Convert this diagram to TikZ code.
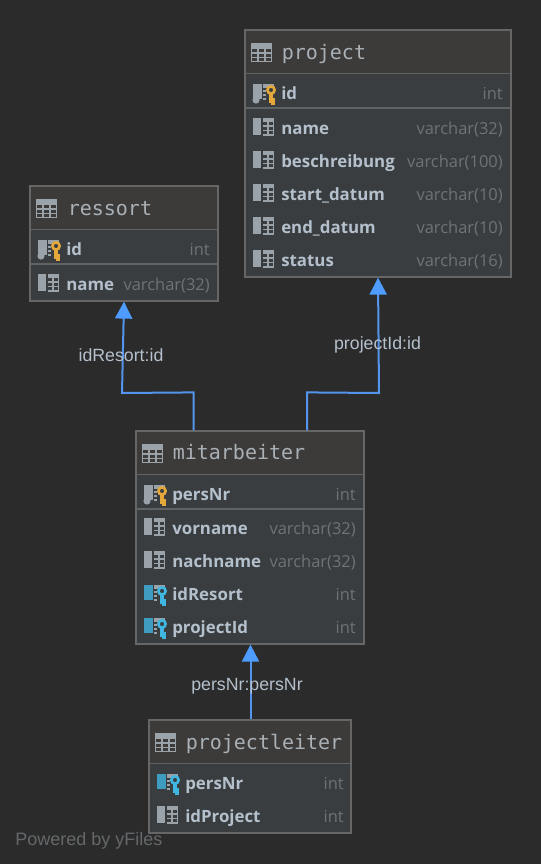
\documentclass[tikz,border=0pt]{standalone}
\usepackage{fontspec}
\setmainfont{Open Sans}
\setsansfont{Liberation Sans}
\setmonofont{DejaVu Sans Mono}
\usetikzlibrary{arrows.meta}

\definecolor{canvas}{HTML}{2B2B2B}
\definecolor{headfill}{HTML}{3C3B3A}
\definecolor{bodyfill}{HTML}{393D3F}
\definecolor{frameline}{HTML}{666666}
\definecolor{rowline}{HTML}{5F6364}
\definecolor{titlegrey}{HTML}{A9B0B6}
\definecolor{namegrey}{HTML}{B4C0CC}
\definecolor{typegrey}{HTML}{6E7375}
\definecolor{icongrey}{HTML}{9AA3A9}
\definecolor{linkblue}{HTML}{5394EC}
\definecolor{tipblue}{HTML}{4E9CFF}
\definecolor{keygold}{HTML}{E5A93B}
\definecolor{keycyan}{HTML}{3FB7E0}
\definecolor{barcyan}{HTML}{3D9CC0}

\newcommand{\px}{0.75pt}

% key shape, #1 is the colour of the bar and #2 the colour of the key
\newcommand{\keyshape}[2]{
    \fill[#1] (0,-8) rectangle (9,7);
    \fill[icongrey] (10,-8) rectangle (21,-4);
    \draw[icongrey,line width=1pt] (10,-1) -- (13,-1) (10,3) -- (13,3) (10,7) -- (13,7);
    \draw[#2,line width=2pt] (18,-2) circle (3.6);
    \draw[#2,line width=2.6pt] (18,2) -- (18,11) (18,8) -- (22,8) (18,11) -- (22,11);
}

\tikzset{
    tablebox/.style={draw=frameline,line width=1.2*\px,fill=bodyfill,inner sep=0pt},
    tabletitle/.style={anchor=base west,inner sep=0pt,text=titlegrey,font=\ttfamily\fontsize{15}{15}\selectfont},
    colname/.style={anchor=base west,inner sep=0pt,text=namegrey,font=\bfseries\fontsize{12.65}{15}\selectfont},
    coltype/.style={anchor=base east,inner sep=0pt,text=typegrey,font=\fontsize{12.35}{15}\selectfont},
    joinlabel/.style={inner sep=0pt,text=namegrey,font=\sffamily\fontsize{13.3}{15}\selectfont},
    link/.style={draw=linkblue,line width=2*\px,-{Triangle[width=17*\px,length=17*\px,color=tipblue]}},
    headicon/.pic={
        \fill[icongrey] (0,0) rectangle (21,5);
        \draw[icongrey,line width=1pt] (0.5,0) rectangle (20.5,17.5);
        \draw[icongrey,line width=1pt] (0,9) -- (21,9) (0,13.5) -- (21,13.5);
        \draw[icongrey,line width=1pt] (7,5) -- (7,18) (14,5) -- (14,18);
    },
    colicon/.pic={
        \fill[icongrey] (0,-9) rectangle (8,8);
        \fill[icongrey] (10,-9) rectangle (21,-5);
        \draw[icongrey,line width=1pt] (20.5,-5) -- (20.5,8) -- (10,8) (10,-1) -- (21,-1) (10,3.5) -- (21,3.5) (15,-5) -- (15,8);
    },
    pkicon/.pic={
        \keyshape{icongrey}{keygold}
        \fill[icongrey] (3,8) circle (3.6);
    },
    fkicon/.pic={
        \keyshape{barcyan}{keycyan}
    },
}

\begin{document}
\begin{tikzpicture}[x=\px,y=-\px]
    % Background
    \fill[canvas] (0,0) rectangle (541,864);
    \useasboundingbox (0,0) rectangle (541,864);
    \node[inner sep=0pt,anchor=base west,text=typegrey!85!canvas,font=\sffamily\fontsize{13.5}{15}\selectfont] (powered) at (15,845) {Powered by yFiles};

    % Table project
    \node[tablebox,minimum width=266*\px,minimum height=247*\px] (project) at (378,153.5) {};
    \fill[headfill] (245.6,30.6) rectangle (510.4,73);
    \draw[rowline] (245.6,73) -- (510.4,73);
    \draw[rowline,line width=1.5*\px] (245.6,108) -- (510.4,108);
    \pic at (251,44) {headicon};
    \node[tabletitle] (projectTitle) at (281.5,59) {project};
    \pic at (253,92) {pkicon};
    \node[colname] (projectKey) at (281,99) {id};
    \node[coltype] (projectKeyType) at (503,99) {int};
    \foreach \n/\y/\colText/\typeText in {1/127/name/varchar(32),2/160/beschreibung/varchar(100),3/193/start\_datum/varchar(10),4/226/end\_datum/varchar(10),5/259/status/varchar(16)} {
        \pic at (253,\y) {colicon};
        \node[colname] (projectCol\n) at (281,\y+7) {\colText};
        \node[coltype] (projectType\n) at (503,\y+7) {\typeText};
    }

    % Table ressort
    \node[tablebox,minimum width=188*\px,minimum height=115*\px] (ressort) at (124,243.5) {};
    \fill[headfill] (30.6,186.6) rectangle (217.4,229);
    \draw[rowline] (30.6,229) -- (217.4,229);
    \draw[rowline,line width=1.5*\px] (30.6,264) -- (217.4,264);
    \pic at (36,200) {headicon};
    \node[tabletitle] (ressortTitle) at (67.5,215) {ressort};
    \pic at (38,248) {pkicon};
    \node[colname] (ressortKey) at (66,255) {id};
    \node[coltype] (ressortKeyType) at (210,255) {int};
    \pic at (38,283) {colicon};
    \node[colname] (ressortCol) at (66,290) {name};
    \node[coltype] (ressortType) at (210,290) {varchar(32)};

    % Table mitarbeiter
    \node[tablebox,minimum width=228*\px,minimum height=213*\px] (mitarbeiter) at (250,537.5) {};
    \fill[headfill] (136.6,431.6) rectangle (363.4,474);
    \draw[rowline] (136.6,474) -- (363.4,474);
    \draw[rowline,line width=1.5*\px] (136.6,509) -- (363.4,509);
    \pic at (142,445) {headicon};
    \node[tabletitle] (mitarbeiterTitle) at (172.5,459) {mitarbeiter};
    \pic at (144,493) {pkicon};
    \node[colname] (mitarbeiterKey) at (172,500) {persNr};
    \node[coltype] (mitarbeiterKeyType) at (356,500) {int};
    \foreach \n/\y/\colText/\typeText in {1/527/vorname/varchar(32),2/560/nachname/varchar(32)} {
        \pic at (144,\y) {colicon};
        \node[colname] (mitarbeiterCol\n) at (172,\y+7) {\colText};
        \node[coltype] (mitarbeiterType\n) at (356,\y+7) {\typeText};
    }
    \foreach \n/\y/\colText in {3/593/idResort,4/626/projectId} {
        \pic at (144,\y) {fkicon};
        \node[colname] (mitarbeiterCol\n) at (172,\y+7) {\colText};
        \node[coltype] (mitarbeiterType\n) at (356,\y+7) {int};
    }

    % Table projectleiter
    \node[tablebox,minimum width=202*\px,minimum height=113*\px] (projectleiter) at (250,776.5) {};
    \fill[headfill] (149.6,720.6) rectangle (350.4,763);
    \draw[rowline] (149.6,763) -- (350.4,763);
    \pic at (155,734) {headicon};
    \node[tabletitle] (projectleiterTitle) at (185.5,749) {projectleiter};
    \pic at (157,782) {fkicon};
    \node[colname] (projectleiterKey) at (185,789) {persNr};
    \node[coltype] (projectleiterKeyType) at (344,789) {int};
    \pic at (157,815) {colicon};
    \node[colname] (projectleiterCol) at (185,822) {idProject};
    \node[coltype] (projectleiterType) at (344,822) {int};

    % Foreign keys
    \draw[link] ([xshift=-56.5*\px]mitarbeiter.north) -- ++(0,-38) -- (122,393) -- (ressort.south);
    \draw[link] ([xshift=57*\px]mitarbeiter.north) -- ++(0,-38) -- (379,393) -- (project.south);
    \draw[link] ([xshift=0.5*\px]projectleiter.north) -- ([xshift=0.5*\px]mitarbeiter.south);

    % Foreign key labels
    \node[joinlabel] (resortLabel) at (121,355) {idResort:id};
    \node[joinlabel] (projectLabel) at (377.5,345) {projectId:id};
    \node[joinlabel] (persLabel) at (247,686) {persNr:persNr};
\end{tikzpicture}
\end{document}
